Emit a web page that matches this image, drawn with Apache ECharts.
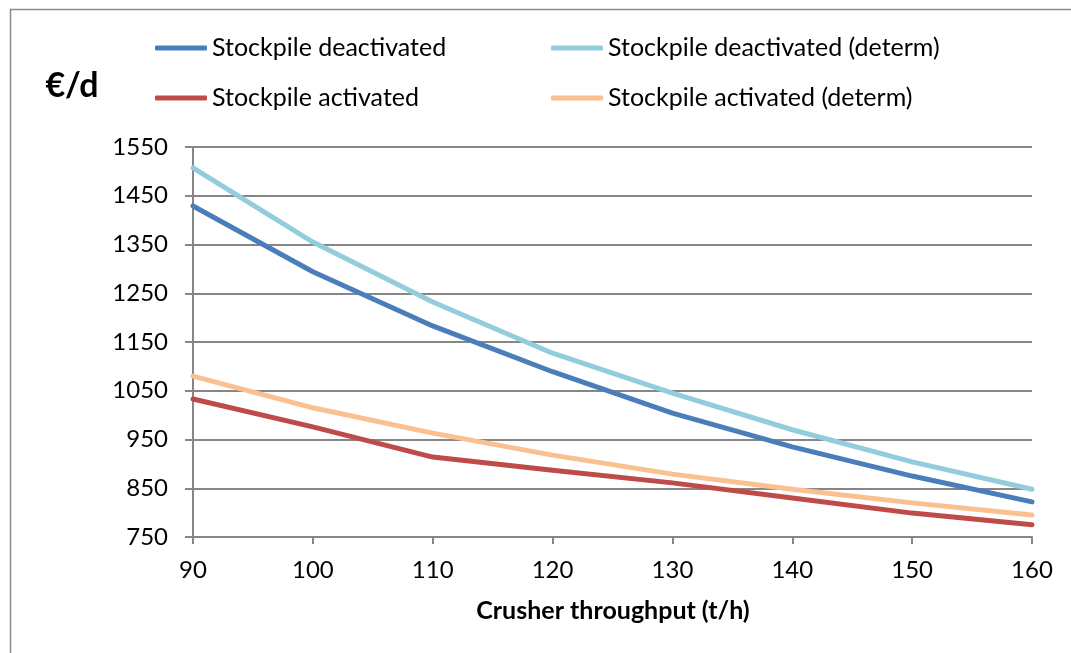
<!DOCTYPE html>
<html>
<head>
<meta charset="utf-8">
<script src="https://cdn.jsdelivr.net/npm/echarts@6/dist/echarts.min.js"></script>
<style>
html,body{margin:0;padding:0;background:#fff;}
#c{width:1071px;height:653px;}
</style>
</head>
<body>
<div id="c"></div>
<script>
const throughput = [90, 100, 110, 120, 130, 140, 150, 160];
const deactivated = [1429, 1294, 1183, 1089, 1004, 935, 875, 822];
const deactivatedDeterm = [1507, 1355, 1232, 1127, 1045, 970, 904, 848];
const activated = [1033, 976, 914, 887, 861, 830, 799, 775];
const activatedDeterm = [1080, 1015, 963, 918, 879, 848, 820, 795];
const seriesNames = ['Stockpile deactivated', 'Stockpile deactivated (determ)', 'Stockpile activated', 'Stockpile activated (determ)'];
const yAxisTitle = '€/d';
const xAxisTitle = 'Crusher throughput (t/h)';

const FONT = 'Lato';
const colors = ['#4a7ebb', '#93cddd', '#be4b48', '#fac090'];
const seriesData = [deactivated, deactivatedDeterm, activated, activatedDeterm];
const legendPos = [[155, 35], [551, 35], [155, 85], [551, 85]];

const chart = echarts.init(document.getElementById('c'));
chart.setOption({
  backgroundColor: '#fff',
  animation: false,
  graphic: [
    { type: 'rect', shape: { x: 10.5, y: 9.5, width: 1100, height: 700 }, style: { fill: 'none', stroke: '#8c8c8c', lineWidth: 1.5 }, z: -1 },
    { type: 'text', x: 72, y: 86, style: { text: yAxisTitle, font: 'bold 34px ' + FONT, fill: '#000', align: 'center', verticalAlign: 'middle' } },
    { type: 'text', x: 613, y: 611, style: { text: xAxisTitle, font: 'bold 25px ' + FONT, fill: '#000', align: 'center', verticalAlign: 'middle' } }
  ],
  legend: seriesNames.map((n, i) => ({
    data: [n],
    left: legendPos[i][0],
    top: legendPos[i][1],
    icon: 'roundRect',
    itemWidth: 52,
    itemHeight: 5,
    padding: 0,
    textStyle: { fontFamily: FONT, fontSize: 25, color: '#000', lineHeight: 26, padding: [0, 0, 0, 0] }
  })),
  grid: { left: 193, right: 39, top: 147, bottom: 116 },
  xAxis: {
    type: 'value', min: 90, max: 160, interval: 10,
    axisLine: { show: true, lineStyle: { color: '#868686', width: 2 } },
    axisTick: { show: true, length: 7, lineStyle: { color: '#868686', width: 2 } },
    splitLine: { show: false },
    axisLabel: { fontFamily: FONT, fontSize: 24, color: '#000', margin: 21 }
  },
  yAxis: {
    type: 'value', min: 750, max: 1550, interval: 100,
    axisLine: { show: true, lineStyle: { color: '#868686', width: 2 } },
    axisTick: { show: true, length: 8, lineStyle: { color: '#868686', width: 2 } },
    splitLine: { show: true, lineStyle: { color: '#868686', width: 2 } },
    axisLabel: { fontFamily: FONT, fontSize: 24, color: '#000', margin: 25, formatter: v => String(v) }
  },
  series: seriesNames.map((n, i) => ({
    name: n,
    type: 'line',
    data: throughput.map((x, j) => [x, seriesData[i][j]]),
    showSymbol: false,
    symbol: 'none',
    color: colors[i],
    lineStyle: { width: 5, color: colors[i], cap: 'round', join: 'round' },
    z: 3 + (i === 1 || i === 3 ? 1 : 0)
  }))
});
</script>
</body>
</html>
